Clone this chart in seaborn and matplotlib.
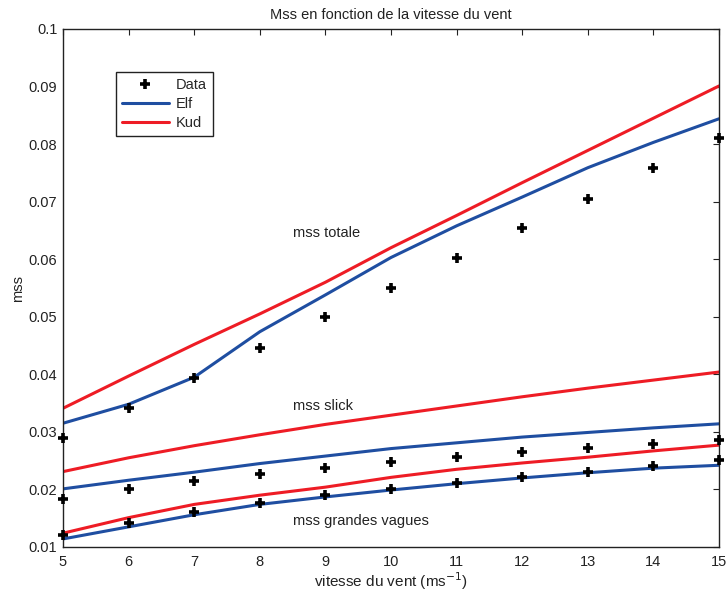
import matplotlib
matplotlib.use("Agg")
import matplotlib.pyplot as plt
import seaborn as sns
import pandas as pd

sns.set_theme(style="white")
plt.rcParams['font.family'] = ['Liberation Sans', 'DejaVu Sans']

vent = [5, 6, 7, 8, 9, 10, 11, 12, 13, 14, 15]

data_totale = [0.0289, 0.0342, 0.0394, 0.0446, 0.0499, 0.0550, 0.0602, 0.0654, 0.0705, 0.0759, 0.0810]
data_slick = [0.0183, 0.0201, 0.0215, 0.0227, 0.0238, 0.0248, 0.0256, 0.0265, 0.0272, 0.0279, 0.0286]
data_grandes = [0.0121, 0.0142, 0.0161, 0.0176, 0.0190, 0.0201, 0.0211, 0.0222, 0.0230, 0.0241, 0.0251]

elf_totale = [0.0315, 0.0348, 0.0395, 0.0474, 0.0538, 0.0603, 0.0658, 0.0708, 0.0759, 0.0803, 0.0844]
elf_slick = [0.0201, 0.0216, 0.0230, 0.0245, 0.0258, 0.0271, 0.0281, 0.0291, 0.0299, 0.0307, 0.0314]
elf_grandes = [0.0114, 0.0135, 0.0156, 0.0174, 0.0187, 0.0199, 0.0210, 0.0220, 0.0229, 0.0237, 0.0242]

kud_totale = [0.0341, 0.0397, 0.0452, 0.0505, 0.0560, 0.0620, 0.0676, 0.0733, 0.0789, 0.0845, 0.0901]
kud_slick = [0.0231, 0.0255, 0.0276, 0.0295, 0.0313, 0.0329, 0.0345, 0.0361, 0.0376, 0.0390, 0.0404]
kud_grandes = [0.0124, 0.0151, 0.0174, 0.0190, 0.0204, 0.0221, 0.0235, 0.0246, 0.0256, 0.0267, 0.0277]

labels_txt = ["mss totale", "mss slick", "mss grandes vagues"]
label_pos = [(8.5, 0.0645), (8.5, 0.0345), (8.5, 0.0145)]

blue = "#1f4ea1"
red = "#ee1c25"

fig = plt.figure(figsize=(7.26, 5.94), dpi=100)
ax = fig.add_axes([63/726, 1-547/594, 656/726, 518/594])

for i, (e, k, d) in enumerate([(elf_totale, kud_totale, data_totale),
                               (elf_slick, kud_slick, data_slick),
                               (elf_grandes, kud_grandes, data_grandes)]):
    sns.lineplot(x=vent, y=e, ax=ax, color=blue, lw=2.2,
                 label="Elf" if i == 0 else None, legend=False)
    sns.lineplot(x=vent, y=k, ax=ax, color=red, lw=2.2,
                 label="Kud" if i == 0 else None, legend=False)
    ax.plot(vent, d, linestyle='none', marker='+', color='black', ms=7, mew=2.6,
            label="Data" if i == 0 else None, zorder=5, clip_on=False)

for t, (x, y) in zip(labels_txt, label_pos):
    ax.text(x, y, t, fontsize=10.5, color='#222222', va='center', ha='left')

ax.set_xlim(5, 15)
ax.set_ylim(0.01, 0.1)
ax.set_xticks(vent)
ax.set_yticks([0.01, 0.02, 0.03, 0.04, 0.05, 0.06, 0.07, 0.08, 0.09, 0.1])
ax.set_yticklabels(["0.01", "0.02", "0.03", "0.04", "0.05", "0.06", "0.07", "0.08", "0.09", "0.1"])
ax.tick_params(direction='in', length=4, width=0.8, top=True, right=True,
               labelsize=10.5, colors='#222222', pad=4)
ax.tick_params(axis='x', pad=6)
for s in ax.spines.values():
    s.set_color('#222222')
    s.set_linewidth(1.0)

ax.set_title("Mss en fonction de la vitesse du vent", fontsize=10.5, color='#222222', pad=7)
ax.set_xlabel("vitesse du vent (ms$^{-1}$)", fontsize=11, color='#222222', labelpad=1)
ax.set_ylabel("mss", fontsize=10.5, color='#222222', labelpad=3)

handles, labs = ax.get_legend_handles_labels()
order = [labs.index("Data"), labs.index("Elf"), labs.index("Kud")]
leg = ax.legend([handles[j] for j in order], [labs[j] for j in order],
                loc='upper left', bbox_to_anchor=(53/656, 1-43/518), borderaxespad=0,
                fontsize=10.5, frameon=True, fancybox=False, edgecolor='#222222',
                handlelength=3.2, handletextpad=0.5, borderpad=0.4,
                labelspacing=0.35, framealpha=1)
leg.get_frame().set_linewidth(1.0)

fig.savefig("out.png", dpi=100)
